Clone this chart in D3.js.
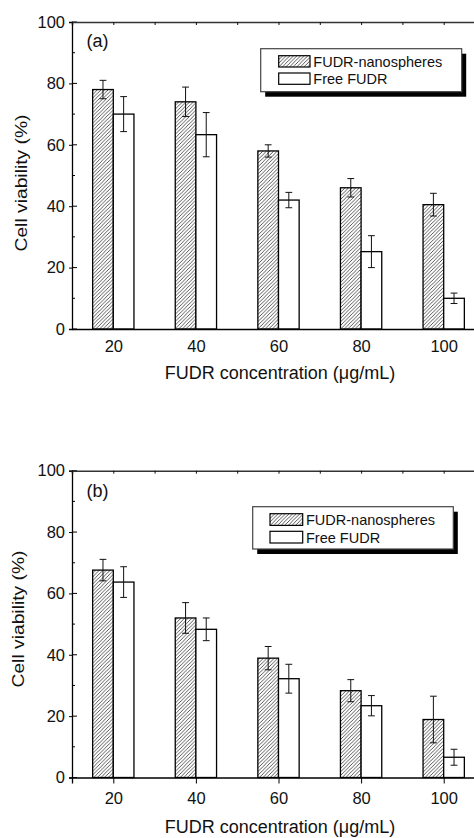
<!DOCTYPE html>
<html>
<head>
<meta charset="utf-8">
<script src="https://cdn.jsdelivr.net/npm/d3@7"></script>
<style>
  html, body { margin: 0; padding: 0; background: #fff; }
  svg { display: block; font-family: "Liberation Sans", Arial, sans-serif; }
</style>
</head>
<body>
<div id="chart"></div>
<script>
// Data
const concentrations = [20, 40, 60, 80, 100];
const yTicks = [0, 20, 40, 60, 80, 100];
const seriesNames = ["FUDR-nanospheres", "Free FUDR"];

const nanoA = [78, 74, 58, 46, 40.5];
const nanoErrA = [3, 4.8, 2, 3, 3.7];
const freeA = [70, 63.3, 42, 25.2, 10];
const freeErrA = [5.7, 7.2, 2.5, 5.2, 1.7];

const nanoB = [67.6, 52, 38.9, 28.3, 18.9];
const nanoErrB = [3.5, 5, 3.8, 3.6, 7.6];
const freeB = [63.7, 48.3, 32.2, 23.4, 6.6];
const freeErrB = [5, 3.7, 4.7, 3.3, 2.6];

const W = 474, H = 838;
const barW = 5; // bar width in x units

const svg = d3.select("#chart").append("svg")
    .attr("width", W)
    .attr("height", H);

// Hatch pattern for nanosphere bars
svg.append("defs").append("pattern")
    .attr("id", "hatch")
    .attr("patternUnits", "userSpaceOnUse")
    .attr("width", 3.6)
    .attr("height", 3.6)
    .append("path")
    .attr("d", "M-0.9,0.9 l1.8,-1.8 M0,3.6 l3.6,-3.6 M2.7,4.5 l1.8,-1.8")
    .attr("stroke", "#111")
    .attr("stroke-width", 0.7);

const panels = [
    {
        label: "(a)", top: 22, bottom: 329, nano: nanoA, nanoErr: nanoErrA, free: freeA, freeErr: freeErrA,
        bottomTick: 0, tickLabelDy: 22.5, titleY: 379, yLabelX: 27, yLabelY: 183,
        legend: { x: 260.7, y: 48.7, w: 201, h: 43, sx: 278.7, sw: 31.3, sy: [55.7, 73], sh: 11.3, tx: 313.3, ty: [66.5, 84.3] },
        labelY: 47
    },
    {
        label: "(b)", top: 470.7, bottom: 777.5, nano: nanoB, nanoErr: nanoErrB, free: freeB, freeErr: freeErrB,
        bottomTick: 6, tickLabelDy: 26.5, titleY: 833, yLabelX: 23.5, yLabelY: 619,
        legend: { x: 252.7, y: 506.7, w: 200.6, h: 42.3, sx: 270, sw: 32.7, sy: [513.7, 531.3], sh: 11.7, tx: 306, ty: [525, 542.5] },
        labelY: 497
    }
];

const left = 72;
const x = d3.scaleLinear().domain([10, 110]).range([left, 485]);

panels.forEach(p => {
    const y = d3.scaleLinear().domain([0, 100]).range([p.bottom, p.top]);
    const g = svg.append("g");

    // Bars
    const rows = concentrations.map((c, i) => ({
        c, nano: p.nano[i], nanoErr: p.nanoErr[i], free: p.free[i], freeErr: p.freeErr[i]
    }));

    const barData = rows.flatMap(d => [
        { x0: d.c - barW, v: d.nano, e: d.nanoErr, fill: "url(#hatch)" },
        { x0: d.c, v: d.free, e: d.freeErr, fill: "#fff" }
    ]);

    g.selectAll("rect.bar")
        .data(barData)
        .join("rect")
        .attr("class", "bar")
        .attr("x", d => x(d.x0))
        .attr("y", d => y(d.v))
        .attr("width", d => x(d.x0 + barW) - x(d.x0))
        .attr("height", d => y(0) - y(d.v))
        .attr("fill", d => d.fill)
        .attr("stroke", "#000")
        .attr("stroke-width", 1.3);

    // Error bars
    const eb = g.selectAll("g.err")
        .data(barData)
        .join("g")
        .attr("class", "err")
        .attr("stroke", "#111")
        .attr("stroke-width", 1);
    eb.append("line")
        .attr("x1", d => x(d.x0 + barW / 2))
        .attr("x2", d => x(d.x0 + barW / 2))
        .attr("y1", d => y(d.v + d.e))
        .attr("y2", d => y(d.v - d.e));
    eb.append("line")
        .attr("x1", d => x(d.x0 + barW / 2) - 3.4)
        .attr("x2", d => x(d.x0 + barW / 2) + 3.4)
        .attr("y1", d => y(d.v + d.e))
        .attr("y2", d => y(d.v + d.e));
    eb.append("line")
        .attr("x1", d => x(d.x0 + barW / 2) - 3.4)
        .attr("x2", d => x(d.x0 + barW / 2) + 3.4)
        .attr("y1", d => y(d.v - d.e))
        .attr("y2", d => y(d.v - d.e));

    // Left axis
    const yAxis = g.append("g")
        .attr("transform", `translate(${left},0)`)
        .call(d3.axisLeft(y).tickValues(yTicks).tickSize(3).tickPadding(4));
    yAxis.select(".domain").attr("stroke", "#000").attr("stroke-width", 1.3);
    yAxis.selectAll(".tick line").attr("stroke", "#000");
    yAxis.selectAll(".tick text")
        .attr("font-size", 16.5)
        .attr("fill", "#111")
        .attr("font-family", "Liberation Sans, Arial, sans-serif");

    // inward major + minor ticks on left axis
    g.append("g").selectAll("line")
        .data(d3.range(0, 101, 10))
        .join("line")
        .attr("x1", left)
        .attr("x2", d => left + (d % 20 === 0 ? 5 : 3))
        .attr("y1", d => y(d))
        .attr("y2", d => y(d))
        .attr("stroke", "#000");

    // Bottom axis
    const xAxis = g.append("g")
        .attr("transform", `translate(0,${p.bottom})`)
        .call(d3.axisBottom(x).tickValues(concentrations).tickSize(p.bottomTick).tickPadding(0));
    xAxis.select(".domain").attr("stroke", "#000").attr("stroke-width", 1.3);
    xAxis.selectAll(".tick line").attr("stroke", "#000");
    xAxis.selectAll(".tick text")
        .attr("y", p.tickLabelDy)
        .attr("dy", 0)
        .attr("font-size", 16.5)
        .attr("fill", "#111")
        .attr("font-family", "Liberation Sans, Arial, sans-serif");

    // Top axis
    const topAxis = g.append("g")
        .attr("transform", `translate(0,${p.top})`)
        .call(d3.axisTop(x).tickValues(d3.range(10, 111, 10)).tickSize(-3).tickFormat(""));
    topAxis.select(".domain").attr("stroke", "#333").attr("stroke-width", 1.6);
    topAxis.selectAll(".tick line").attr("stroke", "#111");

    // Panel label
    g.append("text")
        .attr("x", 86.5)
        .attr("y", p.labelY)
        .attr("font-size", 18)
        .attr("fill", "#111")
        .text(p.label);

    // Legend
    const L = p.legend;
    g.append("rect")
        .attr("x", L.x + 4.5).attr("y", L.y + 5)
        .attr("width", L.w).attr("height", L.h)
        .attr("fill", "#000");
    g.append("rect")
        .attr("x", L.x).attr("y", L.y)
        .attr("width", L.w).attr("height", L.h)
        .attr("fill", "#fff")
        .attr("stroke", "#444")
        .attr("stroke-width", 1.2);
    seriesNames.forEach((name, i) => {
        g.append("rect")
            .attr("x", L.sx).attr("y", L.sy[i])
            .attr("width", L.sw).attr("height", L.sh)
            .attr("fill", i === 0 ? "url(#hatch)" : "#fff")
            .attr("stroke", "#000")
            .attr("stroke-width", 1.2);
        g.append("text")
            .attr("x", L.tx).attr("y", L.ty[i])
            .attr("font-size", 14.5)
            .attr("fill", "#111")
            .text(name);
    });

    // Axis titles
    g.append("text")
        .attr("x", 280)
        .attr("y", p.titleY)
        .attr("text-anchor", "middle")
        .attr("font-size", 18)
        .attr("fill", "#111")
        .text("FUDR concentration (μg/mL)");

    g.append("text")
        .attr("transform", `translate(${p.yLabelX},${p.yLabelY}) rotate(-90)`)
        .attr("text-anchor", "middle")
        .attr("font-size", 16.5)
        .attr("fill", "#111")
        .attr("textLength", 137)
        .attr("lengthAdjust", "spacingAndGlyphs")
        .text("Cell viability (%)");
});
</script>
</body>
</html>
